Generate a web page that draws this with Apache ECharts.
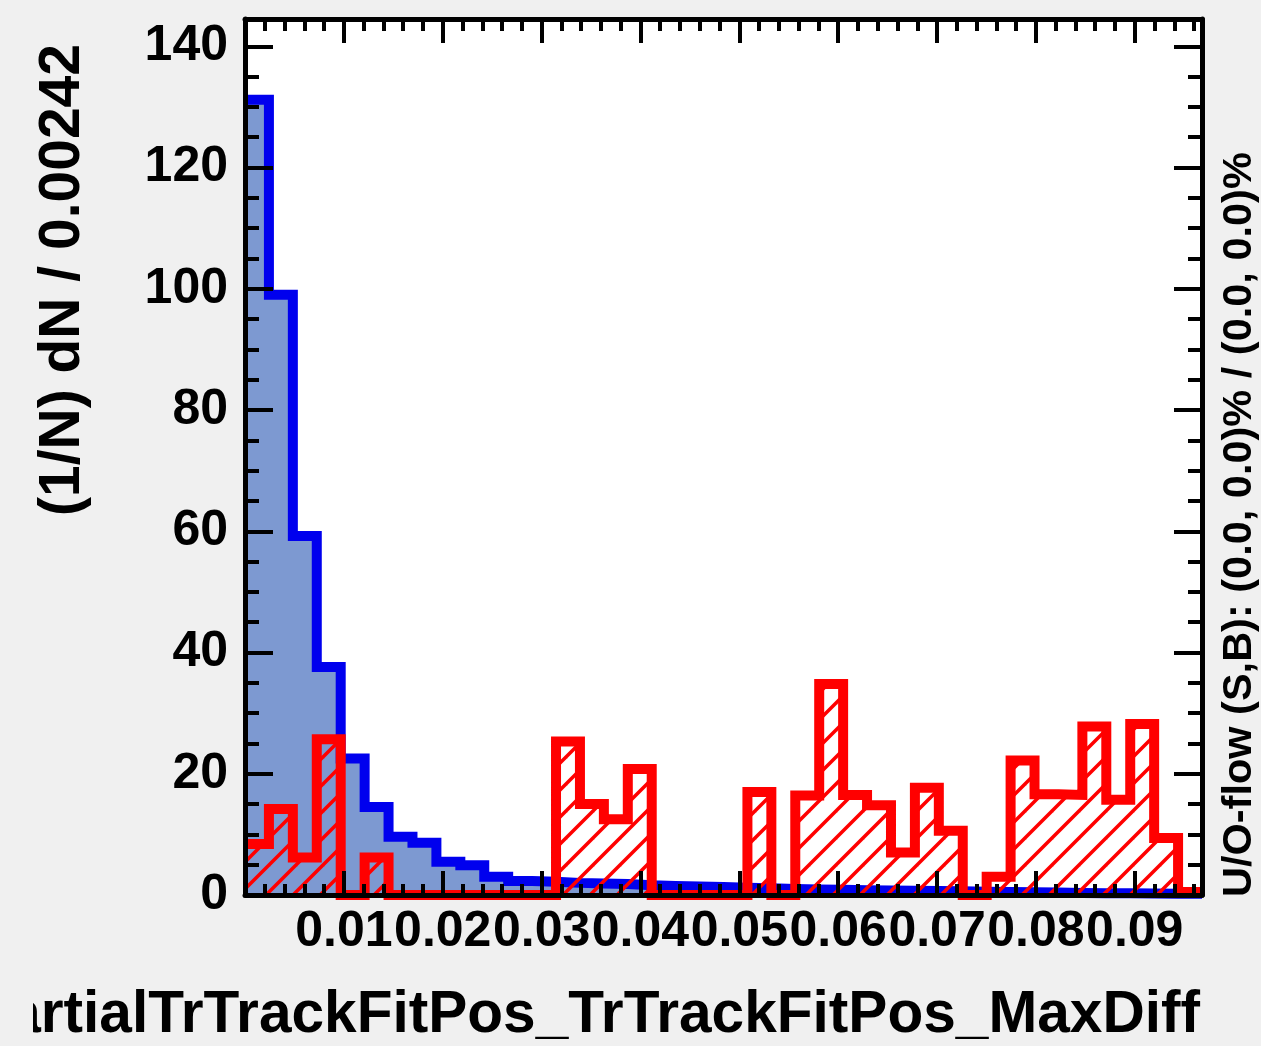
<!DOCTYPE html>
<html>
<head>
<meta charset="utf-8">
<title>PartialTrTrackFitPos_TrTrackFitPos_MaxDiff</title>
<script src="https://cdn.jsdelivr.net/npm/echarts@6/dist/echarts.min.js"></script>
<style>
  html, body { margin: 0; padding: 0; background: #f0f0f0; }
  #chart { width: 1261px; height: 1046px; }
</style>
</head>
<body>
<div id="chart"></div>
<script>
// Histogram binning
const xMin = 0;
const binWidth = 0.00242;

// Normalised densities (1/N) dN per bin
const signalDensity = [
  131.2, 99.0, 59.2, 37.6, 22.5, 14.5, 9.6, 8.6, 5.5, 4.9,
  3.0, 2.3, 2.2, 2.0, 1.9, 1.8, 1.6, 1.5, 1.4, 1.3,
  1.2, 1.1, 1.0, 0.9, 0.85, 0.8, 0.75, 0.7, 0.65, 0.6,
  0.55, 0.5, 0.45, 0.4, 0.35, 0.3, 0.3, 0.25, 0.2, 0.2
];
const backgroundDensity = [
  8.4, 14.2, 6.2, 25.7, 0, 6.2, 0, 0, 0, 0,
  0, 0, 0, 25.3, 15.0, 12.5, 20.8, 0, 0, 0,
  0, 17.0, 0, 16.4, 34.8, 16.5, 14.8, 7.0, 17.7, 10.6,
  0, 3.0, 22.2, 16.6, 16.5, 27.8, 15.7, 28.2, 9.4, 0.5
];

// Axis tick labels
const xTickLabels = ['0.01', '0.02', '0.03', '0.04', '0.05', '0.06', '0.07', '0.08', '0.09'];
const yTickLabels = ['0', '20', '40', '60', '80', '100', '120', '140'];

const xTitle = 'PartialTrTrackFitPos_TrTrackFitPos_MaxDiff';
const yTitle = '(1/N) dN / 0.00242';
const flowText = 'U/O-flow (S,B): (0.0, 0.0)% / (0.0, 0.0)%';

const nBins = signalDensity.length;
const xMax = xMin + nBins * binWidth;
const yMax = 144.5;

// Step outline: one point per left bin edge, plus the final right edge
function toSteps(values) {
  const pts = values.map((v, i) => [xMin + i * binWidth, v]);
  pts.push([xMin + values.length * binWidth, values[values.length - 1]]);
  return pts;
}

// Diagonal hatch used for the background fill
function hatchPattern() {
  const s = 27;
  const c = document.createElement('canvas');
  c.width = s; c.height = s;
  const g = c.getContext('2d');
  g.strokeStyle = '#ff0000';
  g.lineWidth = 3.5;
  for (const o of [-s, 0, s]) {
    g.beginPath();
    g.moveTo(o - 4, s + 4);
    g.lineTo(o + s + 4, -4);
    g.stroke();
  }
  return c;
}

const FONT = 'Liberation Sans, Arial, Helvetica, sans-serif';
const PAGE_BG = '#f0f0f0';
const chart = echarts.init(document.getElementById('chart'), null, { renderer: 'canvas' });

const frameLine = { show: true, onZero: false, lineStyle: { color: '#000', width: 5 } };
const noLine = { show: false, onZero: false };
const tickStyle = { color: '#000', width: 4 };
const plotRect = { left: 245, right: 59, top: 19, bottom: 151 };

// gridIndex 0 carries the frame, major ticks and labels; gridIndex 1 (same rect) the minor ticks
function xAxisDef(gridIndex, position, interval, tickLen, withLabels, withLine) {
  return {
    type: 'value', gridIndex, position, min: xMin, max: xMax, interval, z: 10,
    axisLine: withLine ? frameLine : noLine,
    axisTick: { show: true, inside: true, length: tickLen, lineStyle: tickStyle },
    splitLine: { show: false },
    axisLabel: withLabels ? {
      show: true, margin: 12, showMinLabel: false, showMaxLabel: false,
      fontSize: 50, fontWeight: 'bold', fontFamily: FONT, color: '#000',
      formatter: (v) => {
        const k = Math.round(v / interval) - 1;
        return xTickLabels[k] !== undefined ? xTickLabels[k] : '';
      }
    } : { show: false }
  };
}

function yAxisDef(gridIndex, position, interval, tickLen, withLabels, withLine) {
  return {
    type: 'value', gridIndex, position, min: 0, max: yMax, interval, z: 10,
    axisLine: withLine ? frameLine : noLine,
    axisTick: { show: true, inside: true, length: tickLen, lineStyle: tickStyle },
    splitLine: { show: false },
    axisLabel: withLabels ? {
      show: true, margin: 17, showMaxLabel: false,
      fontSize: 50, fontWeight: 'bold', fontFamily: FONT, color: '#000',
      formatter: (v) => {
        const k = Math.round(v / interval);
        return yTickLabels[k] !== undefined ? yTickLabels[k] : '';
      }
    } : { show: false }
  };
}

const option = {
  animation: false,
  backgroundColor: PAGE_BG,
  grid: [
    Object.assign({ show: true, backgroundColor: '#ffffff', borderWidth: 0,
      containLabel: false, outerBoundsMode: 'none' }, plotRect),
    Object.assign({ show: false, containLabel: false, outerBoundsMode: 'none' }, plotRect)
  ],
  xAxis: [
    xAxisDef(0, 'bottom', 0.01, 24, true, true),
    xAxisDef(0, 'top', 0.01, 24, false, true),
    xAxisDef(1, 'bottom', 0.002, 11, false, false),
    xAxisDef(1, 'top', 0.002, 12, false, false)
  ],
  yAxis: [
    yAxisDef(0, 'left', 20, 28, true, true),
    yAxisDef(0, 'right', 20, 28, false, true),
    yAxisDef(1, 'left', 5, 14, false, false),
    yAxisDef(1, 'right', 5, 14, false, false)
  ],
  series: [
    {
      name: 'Signal', type: 'line', step: 'end', symbol: 'none', clip: false,
      xAxisIndex: 0, yAxisIndex: 0, z: 2,
      data: toSteps(signalDensity),
      lineStyle: { color: '#0000ee', width: 10, join: 'miter', cap: 'butt' },
      areaStyle: { color: '#7d99d1', opacity: 1 }
    },
    {
      name: 'Background', type: 'line', step: 'end', symbol: 'none', clip: false,
      xAxisIndex: 0, yAxisIndex: 0, z: 3,
      data: toSteps(backgroundDensity),
      lineStyle: { color: '#ff0000', width: 10, join: 'miter', cap: 'butt' },
      areaStyle: { color: { image: hatchPattern(), repeat: 'repeat' }, opacity: 1 }
    }
  ],
  graphic: [
    {
      type: 'text', x: 1200, y: 1016, z: 20,
      style: { text: xTitle, align: 'right', verticalAlign: 'middle',
        font: 'bold 58.6px ' + FONT, fill: '#000' }
    },
    // the canvas pad edge cuts the start of the long x title
    {
      type: 'rect', z: 21, silent: true,
      shape: { x: 0, y: 960, width: 33, height: 86 },
      style: { fill: PAGE_BG }
    },
    {
      type: 'text', x: 63, y: 44, rotation: Math.PI / 2, z: 20,
      style: { text: yTitle, align: 'right', verticalAlign: 'middle',
        font: 'bold 57px ' + FONT, fill: '#000' }
    },
    {
      type: 'text', x: 1240, y: 897, rotation: Math.PI / 2, z: 20,
      style: { text: flowText, align: 'left', verticalAlign: 'middle',
        font: 'bold 41.5px ' + FONT, fill: '#000' }
    }
  ]
};

chart.setOption(option);
</script>
</body>
</html>
